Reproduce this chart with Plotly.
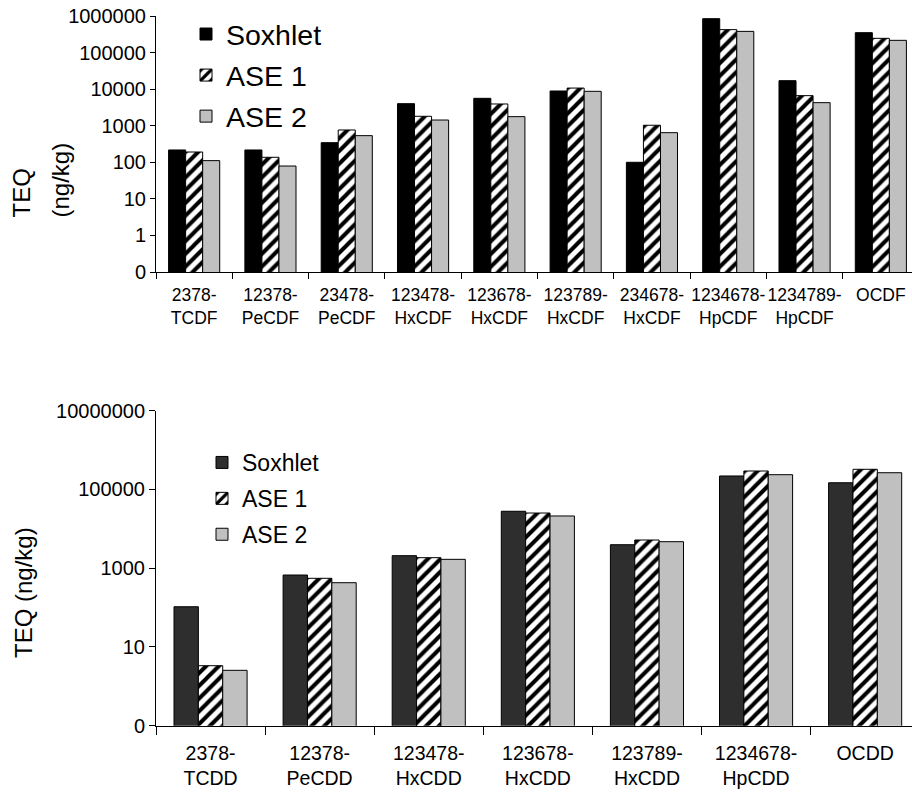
import plotly.graph_objects as go
from plotly.subplots import make_subplots

# PCDF congeners (upper panel)
cats_f = ["2378-<br>TCDF", "12378-<br>PeCDF", "23478-<br>PeCDF", "123478-<br>HxCDF",
          "123678-<br>HxCDF", "123789-<br>HxCDF", "234678-<br>HxCDF", "1234678-<br>HpCDF",
          "1234789-<br>HpCDF", "OCDF"]
sox_f = [217, 217, 344, 4010, 5610, 8900, 100, 845000, 17050, 350000]
ase1_f = [191, 137, 764, 1810, 3930, 10700, 1030, 424000, 6640, 245000]
ase2_f = [111, 79, 535, 1430, 1770, 8720, 645, 380000, 4270, 216000]

# PCDD congeners (lower panel)
cats_d = ["2378-<br>TCDD", "12378-<br>PeCDD", "123478-<br>HxCDD", "123678-<br>HxCDD",
          "123789-<br>HxCDD", "1234678-<br>HpCDD", "OCDD"]
sox_d = [105, 671, 2080, 27900, 3950, 220000, 148000]
ase1_d = [3.34, 554, 1850, 25200, 5200, 294000, 325000]
ase2_d = [2.55, 428, 1680, 21200, 4710, 237000, 266000]

# log-axis ticks (lowest tick shown as "0")
ytick_f = [0.1, 1, 10, 100, 1000, 10000, 100000, 1000000]
ytext_f = ["0", "1", "10", "100", "1000", "10000", "100000", "1000000"]
ytick_d = [0.1, 10, 1000, 100000, 10000000]
ytext_d = ["0", "10", "1000", "100000", "10000000"]

series = ["Soxhlet", "ASE 1", "ASE 2"]

W, H = 912, 794
FONT = "Arial, Liberation Sans, sans-serif"

fig = make_subplots(rows=2, cols=1)

def add_group(vals, cats, row, legend, sox_color):
    styles = [
        dict(color=sox_color),
        dict(color="white", pattern=dict(shape="/", fgcolor="black", bgcolor="white",
                                         size=9, solidity=0.45)),
        dict(color="#c0c0c0"),
    ]
    for name, v, st in zip(series, vals, styles):
        fig.add_trace(go.Bar(x=cats, y=v, name=name, legend=legend, legendgroup=legend + name,
                             marker=dict(line=dict(color="black", width=1), **st)),
                      row=row, col=1)

add_group([sox_f, ase1_f, ase2_f], cats_f, 1, "legend", "#000000")
add_group([sox_d, ase1_d, ase2_d], cats_d, 2, "legend2", "#2e2e2e")

x0 = 156 / W
ax_common = dict(showline=True, linecolor="black", linewidth=1, ticks="outside",
                 tickcolor="black", showgrid=False, zeroline=False, automargin=False)

fig.update_layout(
    width=W, height=H, template="none",
    paper_bgcolor="white", plot_bgcolor="white",
    margin=dict(l=0, r=0, t=0, b=0),
    font=dict(family=FONT, color="black"),
    barmode="group", bargap=0.33, bargroupgap=0,
    xaxis=dict(domain=[x0, 1], type="category", range=[-0.5, -0.5 + 756 / 76.3],
               tickson="boundaries", ticklen=6, tickangle=0, tickfont=dict(size=17.5),
               ticklabelstandoff=7, **ax_common),
    yaxis=dict(domain=[1 - 272 / H, 1 - 16 / H], type="log", range=[-1, 6],
               tickvals=ytick_f, ticktext=ytext_f, ticklen=5, tickfont=dict(size=20),
               **ax_common),
    xaxis2=dict(domain=[x0, 1], type="category", range=[-0.5, -0.5 + 756 / 109.1],
                tickson="boundaries", ticklen=8, tickangle=0, tickfont=dict(size=19.5),
                ticklabelstandoff=10, **ax_common),
    yaxis2=dict(domain=[1 - 725.7 / H, 1 - 410.7 / H], type="log", range=[-1, 7],
                tickvals=ytick_d, ticktext=ytext_d, ticklen=6, tickfont=dict(size=20),
                **ax_common),
    legend=dict(x=186 / W, y=1 - 9 / H, xanchor="left", yanchor="top",
                bgcolor="rgba(0,0,0,0)", font=dict(size=28.5), tracegroupgap=1),
    legend2=dict(x=202 / W, y=1 - 441 / H, xanchor="left", yanchor="top",
                 bgcolor="rgba(0,0,0,0)", font=dict(size=23), tracegroupgap=3),
    annotations=[
        dict(text="TEQ", textangle=-90, showarrow=False,
             xref="paper", yref="paper", x=21 / W, y=1 - 220 / H,
             xanchor="center", yanchor="bottom", font=dict(size=24)),
        dict(text="(ng/kg)", textangle=-90, showarrow=False,
             xref="paper", yref="paper", x=60 / W, y=1 - 220 / H,
             xanchor="center", yanchor="bottom", font=dict(size=24)),
        dict(text="TEQ (ng/kg)", textangle=-90, showarrow=False,
             xref="paper", yref="paper", x=23 / W, y=1 - 593 / H,
             xanchor="center", yanchor="middle", font=dict(size=24)),
    ],
)

fig.write_html("out.html")
